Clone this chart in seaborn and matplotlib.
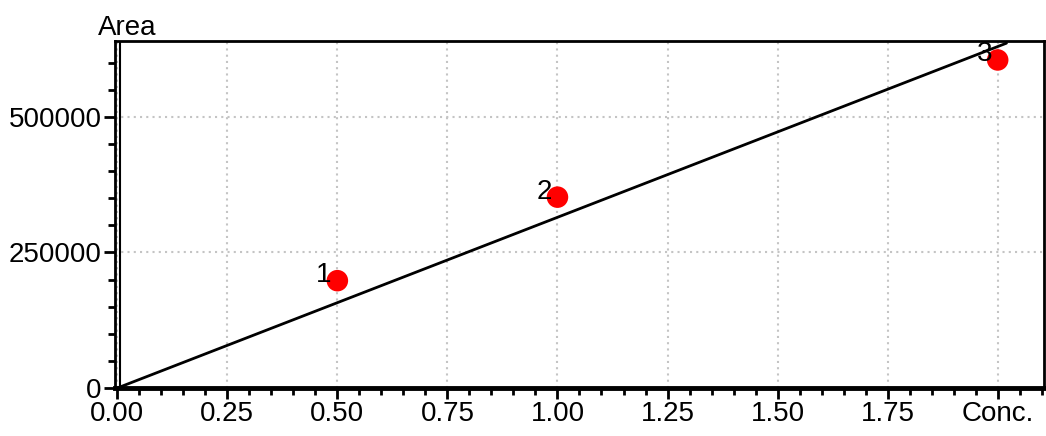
import numpy as np
import pandas as pd
import matplotlib
matplotlib.use("Agg")
import matplotlib.pyplot as plt
from matplotlib.ticker import MultipleLocator, FixedLocator
import seaborn as sns

# calibration points
levels = ["1", "2", "3"]
conc = [0.5, 1.0, 2.0]
area = [198000, 352000, 605000]

# fitted calibration line (end points)
fit_conc = [0.0, 2.02]
fit_area = [0.0, 636000]

x_ticks = [0.0, 0.25, 0.5, 0.75, 1.0, 1.25, 1.5, 1.75, 2.0]
x_labels = ["0.00", "0.25", "0.50", "0.75", "1.00", "1.25", "1.50", "1.75", "Conc."]
y_ticks = [0, 250000, 500000]

sns.set_theme(style="white")
plt.rcParams["font.family"] = ["Liberation Sans", "DejaVu Sans"]

pts = pd.DataFrame({"Conc": conc, "Area": area, "Level": levels})
fit = pd.DataFrame({"Conc": fit_conc, "Area": fit_area})

fig = plt.figure(figsize=(10.46, 4.36), dpi=100)
ax = fig.add_axes([0.110, 0.110, 0.888, 0.796])

sns.lineplot(data=fit, x="Conc", y="Area", color="black", linewidth=2, ax=ax, zorder=3)
sns.scatterplot(data=pts, x="Conc", y="Area", color="red", s=240, edgecolor="none",
                ax=ax, zorder=4)
for _, r in pts.iterrows():
    ax.annotate(r["Level"], (r["Conc"], r["Area"]), xytext=(-4, 4),
                textcoords="offset points", ha="right", va="center",
                fontsize=20, color="black", zorder=5)

ax.set_xlim(-0.005, 2.105)
ax.set_ylim(0, 640000)
ax.xaxis.set_major_locator(FixedLocator(x_ticks))
ax.set_xticklabels(x_labels)
ax.xaxis.set_minor_locator(MultipleLocator(0.05))
ax.yaxis.set_major_locator(FixedLocator(y_ticks))
ax.set_yticklabels([str(v) for v in y_ticks])
ax.yaxis.set_minor_locator(MultipleLocator(50000))

ax.tick_params(axis="both", which="major", direction="out", length=8, width=2,
               labelsize=20, color="black", labelcolor="black", pad=1.5,
               bottom=True, left=True)
ax.tick_params(axis="both", which="minor", direction="out", length=5, width=2,
               color="black", bottom=True, left=True)

ax.grid(True, which="major", color="#c4c4c4", linestyle=(0, (1, 2)), linewidth=1.5)
ax.set_axisbelow(True)

for side in ["top", "right"]:
    ax.spines[side].set_visible(True)
    ax.spines[side].set_color("black")
    ax.spines[side].set_linewidth(2)
ax.spines["bottom"].set_color("black")
ax.spines["bottom"].set_linewidth(3.5)
ax.spines["left"].set_color("black")
ax.spines["left"].set_linewidth(2)
# inner line of the double left axis
ax.axvline(0.0055, color="black", linewidth=1.5, zorder=2)

ax.set_xlabel("")
ax.set_ylabel("")
ax.text(0.013, 1.0, "Area", transform=ax.transAxes, ha="center", va="bottom",
        fontsize=20, color="black")

fig.savefig("out.png", dpi=100)
